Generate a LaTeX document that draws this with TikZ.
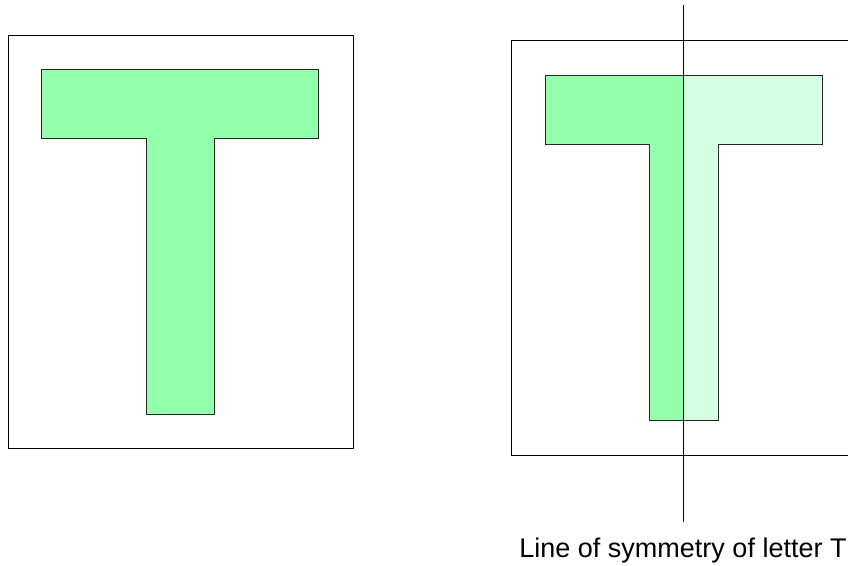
\documentclass[tikz,border=0pt]{standalone}
\usepackage{fontspec}
\setmainfont{Liberation Sans}
\definecolor{tgreen}{HTML}{93FFAA}
\definecolor{tlight}{HTML}{D4FFE0}
\begin{document}
\begin{tikzpicture}[x=1pt,y=-1pt,
  frame/.style={draw=black,line width=1pt},
  letter/.style={draw=black!85,line width=1pt},
  symline/.style={draw=black,line width=1pt}]
\useasboundingbox (0,0) rectangle (848,565);
\clip (0,0) rectangle (848,565);
% left
\draw[frame] (8,35) rectangle (353,448);
\draw[letter,fill=tgreen] (41,69) -- (318,69) -- (318,138) -- (214,138) -- (214,414) -- (146,414) -- (146,138) -- (41,138) -- cycle;
% right
\draw[frame] (511,40) rectangle (852,455);
\fill[tgreen] (545,75) rectangle (683,144);
\fill[tgreen] (649,144) rectangle (683,420);
\fill[tlight] (683,75) rectangle (822,144);
\fill[tlight] (683,144) rectangle (718,420);
\draw[letter] (545,75) -- (822,75) -- (822,144) -- (718,144) -- (718,420) -- (649,420) -- (649,144) -- (545,144) -- cycle;
\coordinate (top) at (683,5);
\coordinate (bot) at (683,522);
\draw[symline] (top) -- (bot);
\node[font=\fontsize{27}{30}\selectfont,anchor=base,inner sep=0pt] (lab) at (683,557) {Line of symmetry of letter T};
\end{tikzpicture}
\end{document}
